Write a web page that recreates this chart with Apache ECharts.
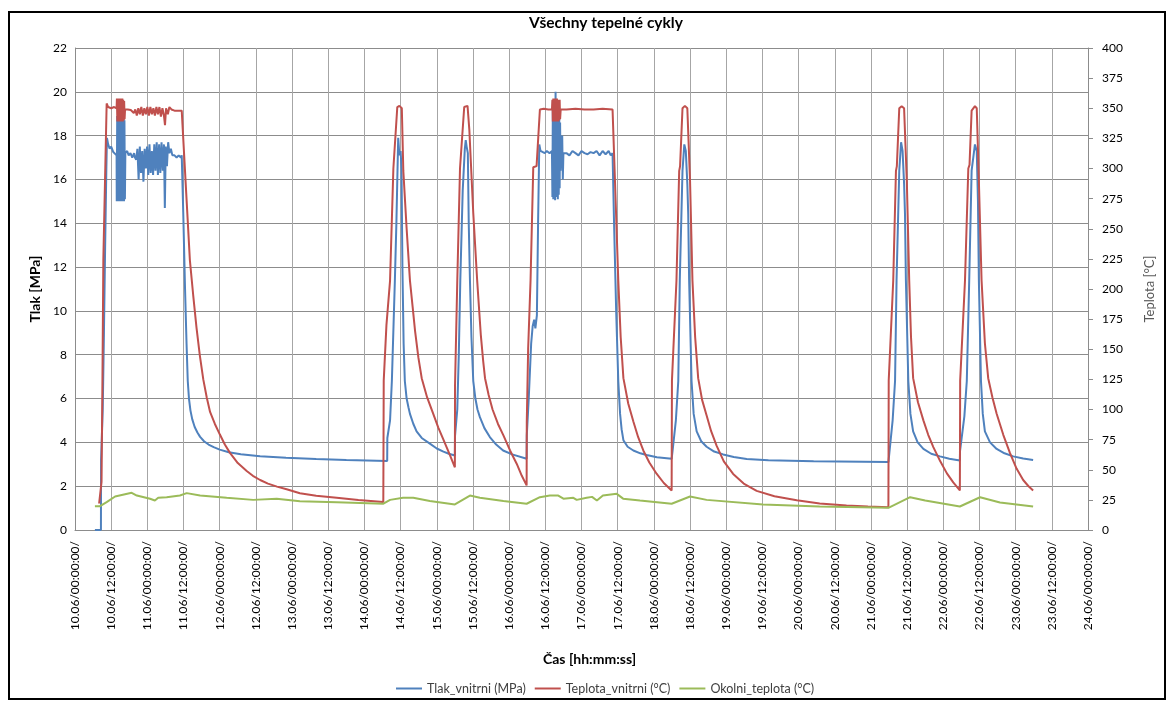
<!DOCTYPE html>
<html>
<head>
<meta charset="utf-8">
<script src="https://cdn.jsdelivr.net/npm/echarts@6/dist/echarts.min.js"></script>
<style>
  html, body { margin: 0; padding: 0; background: #fff; }
  #chart { width: 1172px; height: 702px; }
</style>
</head>
<body>
<div id="chart"></div>
<script>
// Time is given in hours counted from 10.06 00:00:00.
const timeTicks = { min: 0, max: 336, step: 12 };

// Tlak_vnitrni (MPa) — [hours, MPa]
const tlakVnitrni = [
  [6.6,0],[8.6,0],[8.65,3.2],[9.2,5.5],[9.6,9.0],[10.0,13.0],[10.4,16.5],[10.6,17.9],[11.0,17.6],[11.5,17.4],[12.0,17.5],[12.7,17.25],[13.3,17.3],[13.8,17.1],
  [13.85,15.0],[14.0,18.9],[14.15,15.1],[14.3,19.0],[14.45,15.0],[14.6,18.8],[14.75,15.2],[14.9,19.1],[15.05,15.0],[15.2,18.9],[15.35,15.1],[15.5,19.0],[15.65,15.0],[15.8,18.8],[15.95,15.2],[16.1,18.9],[16.25,15.0],[16.4,18.7],[16.55,15.1],[16.7,17.2],
  [17.3,17.3],[17.8,17.1],[18.4,17.2],[19.0,17.0],[19.6,17.2],[19.9,17.0],
  [20.3,16.9],[20.7,17.4],[21.1,16.0],[21.5,17.5],[21.9,16.3],[22.3,17.3],[22.7,15.9],[23.1,17.4],[23.5,16.5],[23.9,17.5],[24.3,16.2],[24.7,17.6],[25.1,16.3],[25.5,17.3],[25.9,16.2],[26.3,17.6],[26.7,16.4],[27.1,17.7],[27.5,16.2],[27.9,17.6],[28.3,16.3],[28.7,17.7],[29.1,16.4],[29.5,17.6],[29.8,14.7],[30.1,17.5],[30.5,16.6],[30.9,17.7],[31.3,17.2],[31.8,17.4],[32.3,17.1],[33.0,17.1],[33.7,17.0],[34.4,17.1],[35.1,17.0],[35.4,17.1],
  [35.9,14.5],[36.5,11.0],[37.0,8.5],[37.4,6.8],[37.8,6.0],[38.3,5.45],[38.9,5.05],[39.7,4.7],[40.6,4.45],[41.5,4.25],[42.8,4.05],[44.3,3.9],[46.0,3.78],[48.0,3.67],[51.0,3.55],[55.0,3.46],[61.4,3.37],[70.0,3.3],[80.0,3.24],[90.0,3.2],[103.55,3.15],
  [103.6,4.2],[104.5,5.0],[105.1,6.8],[106.1,11.4],[106.6,14.0],[107.2,17.9],[107.6,17.1],[108.0,17.3],[108.3,16.5],[108.6,12.0],[109.0,8.5],[109.4,6.8],[110.0,6.0],[110.6,5.6],[111.1,5.3],[112.2,4.85],[113.3,4.5],[115.0,4.2],[117.7,3.94],[120.0,3.72],[122.2,3.58],[124.0,3.48],[126.0,3.4],
  [126.05,4.3],[126.8,5.5],[127.3,8.0],[127.8,11.4],[128.6,15.5],[129.3,17.4],[129.6,17.8],[129.9,17.5],[130.3,17.2],[130.6,14.0],[131.0,11.4],[131.5,8.8],[132.1,6.8],[132.8,6.0],[133.5,5.5],[134.3,5.15],[135.8,4.65],[137.6,4.24],[139.7,3.9],[142.0,3.63],[145.0,3.45],[149.8,3.25],
  [149.85,4.3],[150.5,6.0],[151.3,8.5],[151.8,9.3],[152.3,9.6],[152.7,9.2],[153.2,9.8],[153.6,14.0],[154.0,17.6],[154.4,17.3],[155.0,17.3],[155.8,17.2],[156.5,17.3],[157.4,17.2],[158.2,17.3],
  [158.35,15.2],[158.5,19.6],[158.65,15.1],[158.8,19.4],[158.95,15.3],[159.1,19.5],[159.25,15.05],[159.4,20.0],[159.55,15.2],[159.7,19.3],[159.85,15.4],[160.0,19.5],[160.15,15.1],[160.3,19.4],[160.45,15.3],[160.6,19.2],[160.75,15.6],[160.9,18.6],[161.05,16.4],[161.2,17.3],
  [161.6,18.0],[161.8,16.0],[162.0,17.2],[163.0,17.2],[164.0,17.1],[165.0,17.3],[166.0,17.2],[167.0,17.1],[168.0,17.3],[169.0,17.2],[170.0,17.15],[171.0,17.25],[172.0,17.2],[173.0,17.3],[174.0,17.1],[175.0,17.3],[176.0,17.15],[177.0,17.3],[177.7,17.1],[178.3,17.2],
  [178.8,14.0],[179.5,10.0],[180.2,6.8],[180.8,5.3],[181.3,4.6],[181.9,4.1],[183.3,3.8],[185.2,3.63],[187.5,3.5],[189.6,3.42],[193.0,3.32],[197.9,3.25],
  [198.2,3.6],[199.3,5.0],[200.1,6.8],[200.6,11.4],[201.5,16.4],[202.1,17.6],[202.6,17.3],[203.1,15.8],[203.4,14.4],[203.7,11.4],[204.5,6.8],[205.2,5.3],[206.2,4.5],[207.7,4.05],[209.5,3.8],[212.0,3.58],[215.0,3.45],[218.5,3.33],[222.8,3.24],[230.0,3.18],[245.0,3.14],[269.8,3.1],
  [270.1,3.5],[271.2,5.0],[272.0,6.8],[272.5,11.4],[273.4,16.4],[274.0,17.7],[274.5,17.3],[275.0,15.8],[275.3,14.4],[275.6,11.4],[276.4,6.8],[277.1,5.3],[278.0,4.5],[279.5,4.0],[281.4,3.7],[284.0,3.48],[286.9,3.36],[290.0,3.25],[293.5,3.17],
  [293.55,3.6],[295.0,5.2],[295.8,6.8],[296.6,11.4],[297.4,16.4],[298.5,17.6],[299.1,17.3],[299.5,15.0],[299.8,11.4],[300.5,6.8],[301.1,5.3],[301.8,4.5],[303.5,4.0],[305.7,3.7],[308.3,3.5],[311.2,3.36],[314.5,3.26],[317.8,3.2]
];

// Teplota_vnitrni (°C) — [hours, °C]
const teplotaVnitrni = [
  [8.0,22],[8.8,40],[9.1,124],[9.4,224],[10.5,354],[11.0,351],[12.0,350],[13.0,351],[13.8,350],
  [13.9,358],[14.05,339],[14.2,357],[14.35,340],[14.5,358],[14.65,339],[14.8,357],[14.95,341],[15.1,358],[15.25,339],[15.4,357],[15.55,340],[15.7,358],[15.85,339],[16.0,357],[16.15,340],[16.3,356],[16.45,341],[16.6,349],
  [17.5,349],[18.5,348.5],[19.0,350],[19.5,346],[20.0,349],[20.5,344],[21.0,350],[21.5,345],[22.0,351],[22.5,344],[23.0,350],[23.5,345],[24.0,351],[24.5,344],[25.0,351],[25.5,345],[26.0,350],[26.5,344],[27.0,351],[27.5,345],[28.0,351],[28.5,343],[29.0,350],[29.5,344],[29.85,336],[30.2,350],[30.8,345],[31.3,351],[32.0,349],[33.0,348],[34.0,348],[35.4,348],
  [38.1,224],[39.2,195],[40.3,168],[41.4,145],[42.55,125],[43.7,110],[44.8,98],[46.4,88],[48.1,79],[49.7,71],[51.4,64],[54.0,55.5],[56.95,49],[59.0,45],[61.4,41.5],[64.0,38.5],[67.0,36],[70.2,33.8],[74.6,30.5],[80.0,28.5],[86.8,26.8],[94.0,24.8],[102.26,23.2],
  [102.4,124],[103.3,170],[104.5,207],[105.6,300],[106.1,301],[106.9,351],[107.6,352],[108.4,350],[108.9,298],[110.0,250],[111.1,207],[112.0,185],[112.8,165],[113.9,143],[115.0,126],[116.8,110],[118.8,96.5],[120.5,85],[122.2,75],[124.4,62],[126.0,52],
  [126.05,120],[126.8,207],[127.7,300],[128.3,301],[129.1,351],[130.2,352],[130.8,332],[132.1,263],[133.4,207],[134.6,162],[135.4,140],[136.0,126],[137.2,112],[138.5,100],[140.3,88],[142.1,78.5],[144.3,66],[146.5,55],[148.2,45],[149.8,37],
  [149.85,90],[150.3,150],[151.1,207],[152.0,301],[153.1,302],[154.2,349],[155.5,349.5],[157.0,349],[158.2,349],
  [158.35,357],[158.5,339],[158.65,358],[158.8,340],[158.95,357],[159.1,339],[159.25,358],[159.4,341],[159.55,357],[159.7,339],[159.85,358],[160.0,340],[160.15,357],[160.3,339],[160.45,356],[160.6,340],[160.75,357],[160.9,341],[161.1,349],
  [163.0,349],[166.0,349.5],[169.0,349],[172.0,349],[175.0,349.5],[178.3,349],
  [179.1,290],[180.2,207],[181.0,160],[181.9,126],[183.5,105],[185.2,90],[186.8,77],[188.5,66],[190.5,56],[192.9,46.7],[195.3,39],[197.9,32.8],
  [198.0,124],[199.5,207],[200.4,298],[200.7,302],[201.5,350],[202.3,352],[203.1,350],[204.0,290],[204.8,207],[205.7,160],[206.7,126],[208.0,108],[209.5,95],[211.0,82],[212.8,70],[215.2,57],[218.3,46.5],[221.8,38.5],[226.1,32.5],[232.0,28],[239.4,24.6],[247.0,22],[255.9,20.3],[263.0,19.4],[269.8,18.9],
  [269.9,124],[271.4,207],[272.3,298],[272.6,302],[273.4,350],[274.2,351.7],[275.0,350],[275.9,290],[276.7,207],[277.3,160],[278.0,126],[279.6,106],[281.4,91],[283.0,79],[284.7,68.8],[287.0,57],[289.2,47],[291.3,39.5],[293.5,32.8],
  [293.6,124],[295.2,207],[296.3,300],[296.7,303],[297.4,348],[298.5,351.7],[299.1,350],[299.8,290],[300.7,207],[301.8,155],[302.9,126],[304.3,110],[305.7,96.5],[307.9,79],[310.1,64],[312.3,51],[314.5,41.5],[316.2,36.5],[317.8,32.8]
];

// Okolni_teplota (°C) — [hours, °C]
const okolniTeplota = [
  [6.6,19.8],[8.3,19.8],[10.5,23.1],[13.3,27.8],[18.8,30.9],[20.5,28.6],[24.9,25.9],[26.5,24.5],[27.6,26.7],[28.2,25.3],[30.4,27.2],[34.8,28.6],[37.05,30.6],[41.5,28.6],[50.3,26.7],[59.1,25],[66.9,25.9],[74.6,23.9],[86.8,23],[102.3,21.8],
  [104.5,25],[108.8,26.7],[112.2,26.7],[117.7,24],[126.0,21.2],[131.0,28.6],[134.3,26.7],[142.1,24],[149.8,21.8],[154.2,27.2],[157.5,28.6],[160.3,28.6],[162.0,26],[165.3,26.7],[166.4,25],[169.7,26.7],[171.5,27.5],[173.1,24.5],[175.1,28.6],[179.7,30],[181.8,26],[187.4,24.5],[197.9,21.8],
  [204.0,27.8],[209.5,25],[228.2,21.2],[247.0,19.5],[269.8,18.4],[277.0,27.2],[282.0,24.5],[293.5,19.5],[300.2,27.2],[306.8,22.8],[317.8,19.5]
];

const seriesNames = ['Tlak_vnitrni (MPa)', 'Teplota_vnitrni (°C)', 'Okolni_teplota (°C)'];
const seriesColors = ['#4F81BD', '#C0504D', '#9BBB59'];

const FONT = 'Lato, "Open Sans", "Liberation Sans", sans-serif';

function timeLabel(h) {
  const day = 10 + Math.floor(h / 24);
  const hh = String(h % 24).padStart(2, '0');
  return day + '.06/' + hh + ':00:00/';
}

function lineSeries(idx, axis, data) {
  return {
    name: seriesNames[idx],
    type: 'line',
    yAxisIndex: axis,
    data: data,
    showSymbol: false,
    symbol: 'none',
    lineStyle: { color: seriesColors[idx], width: 2 },
    itemStyle: { color: seriesColors[idx] }
  };
}

const chart = echarts.init(document.getElementById('chart'), null, { renderer: 'canvas' });

chart.setOption({
  animation: false,
  backgroundColor: '#ffffff',
  textStyle: { fontFamily: FONT },
  title: {
    text: 'Všechny tepelné cykly',
    left: 524,
    top: 10,
    textStyle: { fontFamily: FONT, fontSize: 15.5, fontWeight: 'bold', color: '#000' }
  },
  legend: {
    data: seriesNames,
    bottom: 2,
    left: 391,
    icon: 'rect',
    itemWidth: 26,
    itemHeight: 2,
    itemGap: 9,
    textStyle: { fontFamily: FONT, fontSize: 12.5, color: '#404040' }
  },
  grid: { left: 75, right: 84, top: 48, bottom: 172, containLabel: false },
  xAxis: {
    type: 'value',
    min: timeTicks.min,
    max: timeTicks.max,
    interval: timeTicks.step,
    name: 'Čas [hh:mm:ss]',
    nameLocation: 'middle',
    nameGap: 122,
    nameTextStyle: { fontFamily: FONT, fontSize: 14, fontWeight: 'bold', color: '#000', padding: [0, 0, 0, 16] },
    axisLine: { show: true, lineStyle: { color: '#8c8c8c', width: 1 } },
    axisTick: { show: false },
    axisLabel: {
      rotate: 90,
      margin: 11,
      fontFamily: FONT,
      fontSize: 12,
      color: '#000',
      formatter: timeLabel
    },
    splitLine: { show: true, lineStyle: { color: '#a6a6a6', width: 1 } }
  },
  yAxis: [
    {
      type: 'value',
      position: 'left',
      min: 0,
      max: 22,
      interval: 2,
      name: 'Tlak [MPa]',
      nameLocation: 'middle',
      nameRotate: 90,
      nameGap: 31,
      nameTextStyle: { fontFamily: FONT, fontSize: 14, fontWeight: 'bold', color: '#000' },
      axisLine: { show: true, lineStyle: { color: '#8c8c8c', width: 1 } },
      axisTick: { show: false },
      axisLabel: { margin: 8, fontFamily: FONT, fontSize: 12, color: '#000' },
      splitLine: { show: true, lineStyle: { color: '#8c8c8c', width: 1 } }
    },
    {
      type: 'value',
      position: 'right',
      min: 0,
      max: 400,
      interval: 25,
      name: 'Teplota [°C]',
      nameLocation: 'middle',
      nameRotate: 90,
      nameGap: 55,
      nameTextStyle: { fontFamily: FONT, fontSize: 13, color: '#595959' },
      axisLine: { show: true, lineStyle: { color: '#8c8c8c', width: 1 } },
      axisTick: { show: true, inside: false, length: 5, lineStyle: { color: '#8c8c8c' } },
      axisLabel: { margin: 14, fontFamily: FONT, fontSize: 12, color: '#000' },
      splitLine: { show: false }
    }
  ],
  series: [
    lineSeries(0, 0, tlakVnitrni),
    lineSeries(1, 1, teplotaVnitrni),
    lineSeries(2, 1, okolniTeplota)
  ],
  graphic: [
    {
      type: 'rect',
      silent: true,
      shape: { x: 9, y: 12, width: 1156, height: 687 },
      style: { fill: 'none', stroke: '#000', lineWidth: 2 }
    }
  ]
});
</script>
</body>
</html>
